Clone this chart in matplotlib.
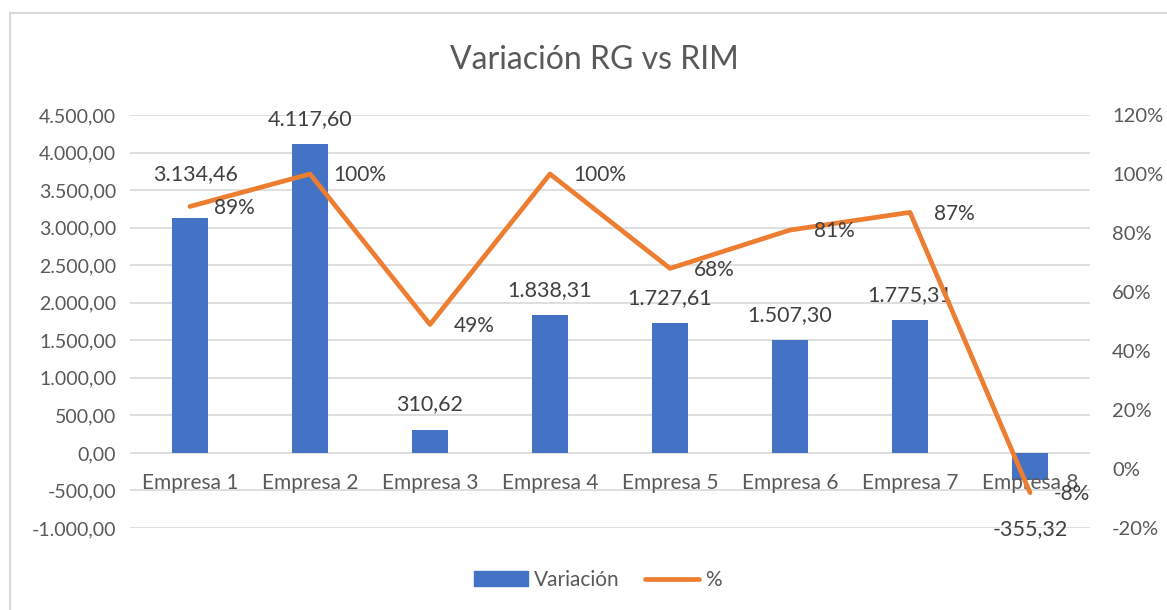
import numpy as np
import matplotlib
matplotlib.use("Agg")
import matplotlib.pyplot as plt
from matplotlib.patches import Rectangle
from matplotlib.ticker import FuncFormatter, MultipleLocator

# data
empresas = ["Empresa 1", "Empresa 2", "Empresa 3", "Empresa 4",
            "Empresa 5", "Empresa 6", "Empresa 7", "Empresa 8"]
variacion = [3134.46, 4117.60, 310.62, 1838.31, 1727.61, 1507.30, 1775.31, -355.32]
porcentaje = [0.89, 1.00, 0.49, 1.00, 0.68, 0.81, 0.87, -0.08]

BLUE = "#4472C4"
ORANGE = "#ED7D31"
GRAY_TXT = "#595959"
GRID = "#D9D9D9"

plt.rcParams['font.family'] = ['Lato', 'DejaVu Sans']


def fmt_es(v, dec=2):
    s = f"{abs(v):,.{dec}f}"
    s = s.replace(",", "X").replace(".", ",").replace("X", ".")
    return ("-" if v < 0 else "") + s


fig = plt.figure(figsize=(11.67, 6.10), dpi=100)
fig.patches.append(Rectangle((10 / 1167, -0.01), 1.2, 1 - 13 / 610 + 0.01,
                             transform=fig.transFigure, fill=False,
                             edgecolor="#D9D9D9", lw=1.5))

ax = fig.add_axes([130 / 1167, 1 - 528 / 610, 960 / 1167, 413 / 610])
ax2 = ax.twinx()

x = np.arange(len(empresas))
ax.bar(x, variacion, width=0.3, color=BLUE, zorder=2)
ax.set_xlim(-0.5, len(empresas) - 0.5)
ax.set_ylim(-1000, 4500)
ax.yaxis.set_major_locator(MultipleLocator(500))
ax.yaxis.set_major_formatter(FuncFormatter(lambda v, p: fmt_es(v)))
ax.grid(axis="y", color=GRID, lw=1.2, zorder=0)
ax.set_axisbelow(True)
ax.set_xticks([])
for s in ax.spines.values():
    s.set_visible(False)
ax.tick_params(axis="y", length=0, pad=10, labelsize=14, labelcolor=GRAY_TXT)

# category labels next to the zero line
for i, name in enumerate(empresas):
    ax.annotate(name, (i, 0), xytext=(0, -22), textcoords="offset points",
                ha="center", va="center", fontsize=15, color=GRAY_TXT, zorder=5)

# bar value labels
bar_off = [31, 18, 18, 18, 18, 18, 18, -36]
for i, v in enumerate(variacion):
    ax.annotate(fmt_es(v), (i, v), xytext=(4 if i == 0 else 0, bar_off[i]),
                textcoords="offset points", ha="center", va="center",
                fontsize=15.5, color="#404040", zorder=5)

ax2.plot(x, porcentaje, color=ORANGE, lw=3.4, solid_capstyle="round",
         solid_joinstyle="round", zorder=3)
ax2.set_ylim(-0.2, 1.2)
ax2.yaxis.set_major_locator(MultipleLocator(0.2))
ax2.yaxis.set_major_formatter(FuncFormatter(lambda v, p: f"{v * 100:.0f}%"))
for s in ax2.spines.values():
    s.set_visible(False)
ax2.tick_params(axis="y", length=0, pad=16, labelsize=14.5, labelcolor=GRAY_TXT)
for i, p in enumerate(porcentaje):
    ax2.annotate(f"{p * 100:.0f}%", (i, p), xytext=(17, -1),
                 textcoords="offset points", ha="left", va="center",
                 fontsize=15, color="#404040")

fig.text(594 / 1167, 1 - 60 / 610, "Variación RG vs RIM", ha="center",
         va="center", fontsize=23, color=GRAY_TXT)

handles = [Rectangle((0, 0), 1, 1, color=BLUE),
           plt.Line2D([], [], color=ORANGE, lw=3.4, solid_capstyle="round")]
fig.legend(handles, ["Variación", "%"], loc="center", ncol=2,
           bbox_to_anchor=(598 / 1167, 1 - 580 / 610), frameon=False,
           fontsize=15, labelcolor=GRAY_TXT, handlelength=2.6,
           handletextpad=0.3, columnspacing=1.2)

fig.savefig("out.png", dpi=100)
